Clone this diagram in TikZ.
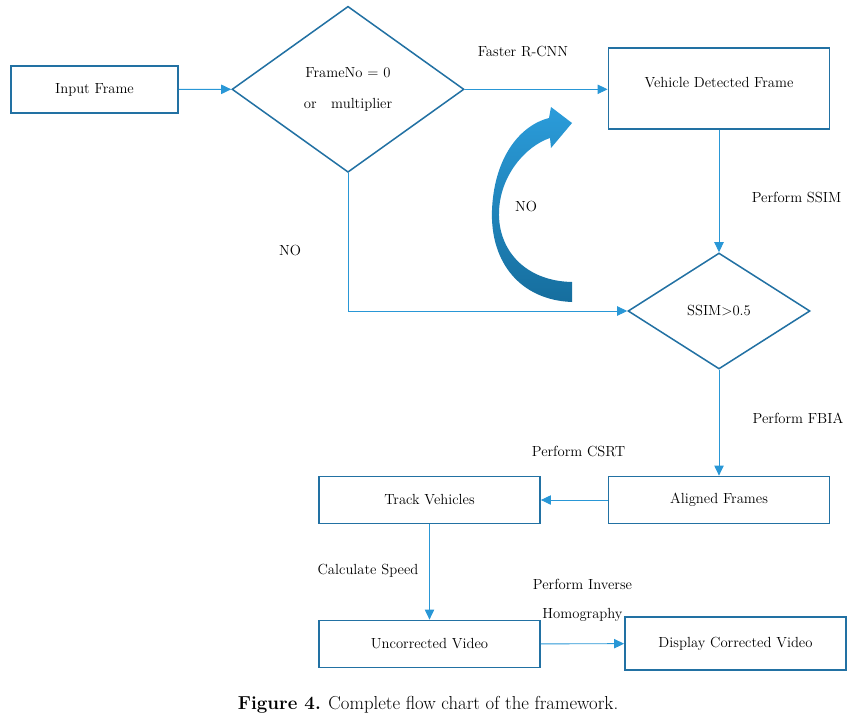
\documentclass[tikz,border=0pt]{standalone}
\usetikzlibrary{positioning}
\usetikzlibrary{shapes.geometric}
\usetikzlibrary{arrows.meta}
\definecolor{boxblue}{RGB}{34,113,163}
\definecolor{lineblue}{RGB}{41,151,214}
\definecolor{bendtop}{RGB}{43,156,218}
\definecolor{bendbottom}{RGB}{22,110,158}

\begin{document}
\begin{tikzpicture}[
        x=0.03cm, y=-0.03cm,
        font=\fontsize{12.5}{14.5}\selectfont,
        box/.style={rectangle, draw=boxblue, line width=1.5pt, minimum width=6.63cm, minimum height=1.41cm, text centered, inner sep=0pt},
        decision/.style={diamond, draw=boxblue, line width=1.3pt, inner sep=0pt, align=center},
        arrow/.style={-{Triangle[length=0.3cm, width=0.28cm]}, draw=lineblue, line width=0.8pt},
        lbl/.style={inner sep=0pt}
        ]
        \useasboundingbox (0,0) rectangle (867,721);

        % Nodes
        \node[box, minimum width=5.01cm] (input) at (94.5,89.5) {Input Frame};
        \node[decision, minimum width=6.96cm, minimum height=4.98cm] (frameno) at (348,89.3) {FrameNo = 0\\[12pt]or\quad multiplier};
        \node[box, minimum height=2.43cm, text height=0.3cm, text depth=0.36cm] (detected) at (719,88.5) {Vehicle Detected Frame};
        \node[decision, minimum width=5.46cm, minimum height=3.48cm] (ssim) at (719,311) {SSIM>0.5};
        \node[box] (aligned) at (719,500) {Aligned Frames};
        \node[box] (track) at (429.5,500) {Track Vehicles};
        \node[box] (uncorrected) at (429.5,644) {Uncorrected Video};
        \node[box, minimum height=1.59cm] (display) at (735.5,643.5) {Display Corrected Video};

        % Labels
        \node[lbl] (fastercnn) at (523,51) {Faster R-CNN};
        \node[lbl] (performssim) at (796.5,197) {Perform SSIM};
        \node[lbl] (noleft) at (290,250) {NO};
        \node[lbl] (noloop) at (526,206) {NO};
        \node[lbl] (performfbia) at (798,418) {Perform FBIA};
        \node[lbl] (performcsrt) at (578.5,451) {Perform CSRT};
        \node[lbl] (calcspeed) at (368,571) {Calculate Speed};
        \node[lbl] (inverse) at (582.5,584) {Perform Inverse};
        \node[lbl] (homography) at (582.5,615) {Homography};
        \node[lbl] (caption) at (428,705) {\fontsize{16}{19}\selectfont\textbf{Figure 4.} Complete flow chart of the framework.};

        % Arrows
        \draw[arrow] (input) -- (frameno.west);
        \draw[arrow] (frameno.east) -- (frameno.east -| detected.west);
        \draw[arrow] (detected) -- (ssim.north);
        \draw[arrow] (frameno.south) |- (ssim.west);
        \draw[arrow] (ssim.south) -- (aligned);
        \draw[arrow] (aligned) -- (track);
        \draw[arrow] (track) -- (uncorrected);
        \draw[arrow] (uncorrected) -- (display);

        % Loop arrow
        \shade[top color=bendtop, bottom color=bendbottom] (572,302) .. controls (520,300) and (490,262) .. (492,210) .. controls (494,160) and (518,126) .. (549,118) -- (551,107) -- (572,123) -- (551,148) -- (550,138) .. controls (526,146) and (500,175) .. (499,212) .. controls (498,250) and (525,281) .. (572,282) -- cycle;

    \end{tikzpicture}
\end{document}
